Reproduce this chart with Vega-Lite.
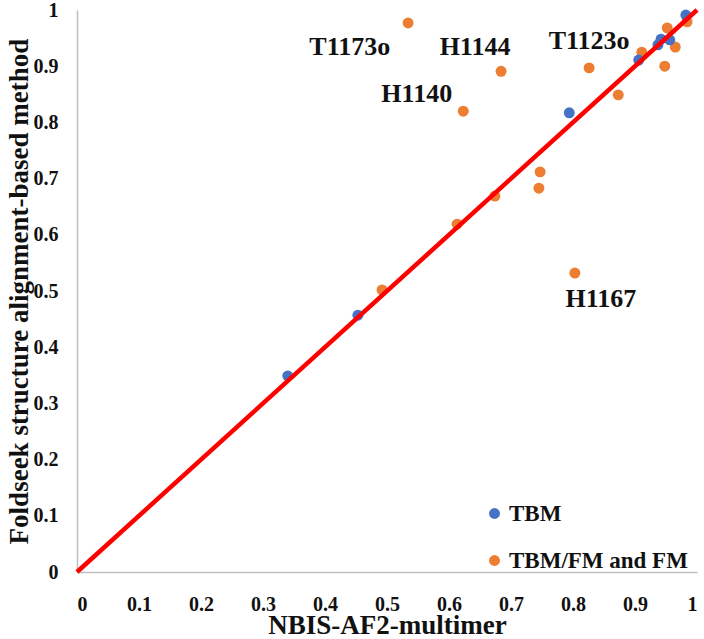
{
  "$schema": "https://vega.github.io/schema/vega-lite/v6.json",
  "autosize": {"type": "none"},
  "width": 620,
  "height": 562,
  "padding": {"left": 77, "top": 10, "right": 7, "bottom": 67},
  "background": "white",
  "config": {
    "view": {"stroke": null},
    "font": "Liberation Serif",
    "axis": {
      "grid": false,
      "ticks": false,
      "domainColor": "#BFBFBF",
      "domainWidth": 1.5,
      "labelFont": "Liberation Serif",
      "labelFontWeight": "bold",
      "labelFontSize": 20,
      "labelColor": "#111111",
      "titleFont": "Liberation Serif",
      "titleFontWeight": "bold",
      "titleFontSize": 27,
      "titleColor": "#111111"
    }
  },
  "datasets": {
    "pts": [
      {"x": 0.340, "y": 0.349, "group": "TBM"},
      {"x": 0.453, "y": 0.457, "group": "TBM"},
      {"x": 0.794, "y": 0.817, "group": "TBM"},
      {"x": 0.906, "y": 0.911, "group": "TBM"},
      {"x": 0.937, "y": 0.938, "group": "TBM"},
      {"x": 0.942, "y": 0.948, "group": "TBM"},
      {"x": 0.956, "y": 0.947, "group": "TBM"},
      {"x": 0.982, "y": 0.991, "group": "TBM"},
      {"x": 0.534, "y": 0.977, "group": "TBM/FM and FM"},
      {"x": 0.684, "y": 0.891, "group": "TBM/FM and FM"},
      {"x": 0.623, "y": 0.820, "group": "TBM/FM and FM"},
      {"x": 0.826, "y": 0.897, "group": "TBM/FM and FM"},
      {"x": 0.911, "y": 0.925, "group": "TBM/FM and FM"},
      {"x": 0.952, "y": 0.968, "group": "TBM/FM and FM"},
      {"x": 0.965, "y": 0.934, "group": "TBM/FM and FM"},
      {"x": 0.948, "y": 0.900, "group": "TBM/FM and FM"},
      {"x": 0.984, "y": 0.979, "group": "TBM/FM and FM"},
      {"x": 0.873, "y": 0.849, "group": "TBM/FM and FM"},
      {"x": 0.747, "y": 0.712, "group": "TBM/FM and FM"},
      {"x": 0.745, "y": 0.683, "group": "TBM/FM and FM"},
      {"x": 0.674, "y": 0.669, "group": "TBM/FM and FM"},
      {"x": 0.613, "y": 0.619, "group": "TBM/FM and FM"},
      {"x": 0.803, "y": 0.532, "group": "TBM/FM and FM"},
      {"x": 0.492, "y": 0.502, "group": "TBM/FM and FM"}
    ],
    "diag": [
      {"x": 0, "y": 0},
      {"x": 1, "y": 1}
    ],
    "labels": [
      {"x": 0.440, "y": 0.934, "label": "T1173o"},
      {"x": 0.642, "y": 0.934, "label": "H1144"},
      {"x": 0.826, "y": 0.945, "label": "T1123o"},
      {"x": 0.548, "y": 0.851, "label": "H1140"},
      {"x": 0.845, "y": 0.486, "label": "H1167"}
    ]
  },
  "layer": [
    {
      "data": {"name": "pts"},
      "mark": {"type": "circle", "size": 120, "opacity": 1},
      "encoding": {
        "x": {
          "field": "x", "type": "quantitative",
          "scale": {"domain": [0, 1], "nice": false},
          "axis": {"title": "NBIS-AF2-multimer", "tickCount": 10, "format": ".1~f", "labelPadding": 38, "labelBaseline": "alphabetic", "titleBaseline": "alphabetic", "titleY": 61}
        },
        "y": {
          "field": "y", "type": "quantitative",
          "scale": {"domain": [0, 1], "nice": false},
          "axis": {"title": "Foldseek structure alignment-based method", "tickCount": 10, "format": ".1~f", "labelPadding": 19, "titlePadding": 0}
        },
        "color": {
          "field": "group", "type": "nominal",
          "scale": {"domain": ["TBM", "TBM/FM and FM"], "range": ["#4472C4", "#ED7D31"]},
          "legend": {
            "title": null,
            "orient": "none",
            "legendX": 406,
            "legendY": 492,
            "symbolType": "circle",
            "symbolSize": 120,
            "symbolStrokeWidth": 0,
            "labelFont": "Liberation Serif",
            "labelFontWeight": "bold",
            "labelFontSize": 23,
            "labelColor": "#111111",
            "labelLimit": 400,
            "rowPadding": 23,
            "labelOffset": 3
          }
        },
        "order": {"field": "group", "sort": "descending"}
      }
    },
    {
      "data": {"name": "diag"},
      "mark": {"type": "line", "color": "#FF0000", "strokeWidth": 4.5},
      "encoding": {
        "x": {"field": "x", "type": "quantitative"},
        "y": {"field": "y", "type": "quantitative"}
      }
    },
    {
      "data": {"name": "labels"},
      "mark": {"type": "text", "font": "Liberation Serif", "fontWeight": "bold", "fontSize": 26, "color": "#111111", "align": "center", "baseline": "middle"},
      "encoding": {
        "x": {"field": "x", "type": "quantitative"},
        "y": {"field": "y", "type": "quantitative"},
        "text": {"field": "label"}
      }
    }
  ]
}
